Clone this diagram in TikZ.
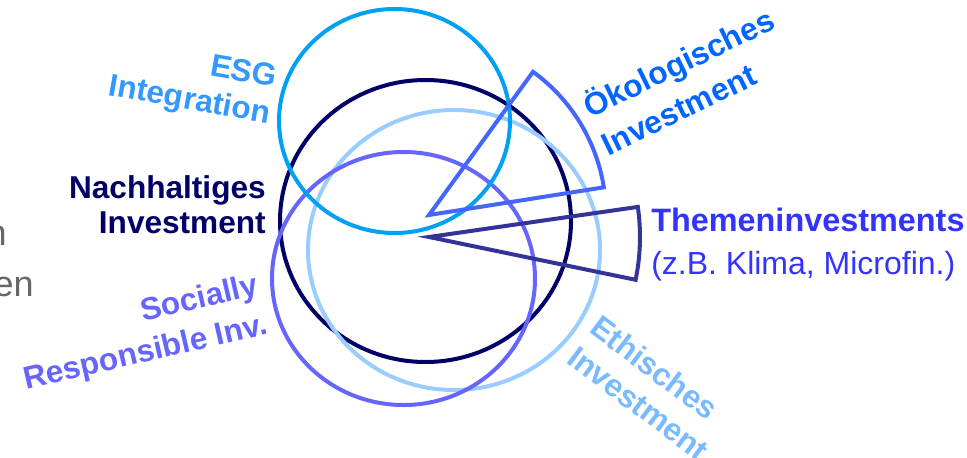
\documentclass[tikz,border=0pt]{standalone}
\usepackage{fontspec}
\setmainfont{Liberation Sans}
\usepackage{tikz}
\usetikzlibrary{positioning}
\definecolor{nachBlue}{RGB}{0,0,102}
\definecolor{esgLine}{RGB}{0,160,245}
\definecolor{esgText}{RGB}{51,153,255}
\definecolor{ethLine}{RGB}{153,204,255}
\definecolor{ethText}{RGB}{122,186,255}
\definecolor{sriBlue}{RGB}{102,102,255}
\definecolor{oekoLine}{RGB}{68,102,255}
\definecolor{oekoText}{RGB}{0,102,255}
\definecolor{themLine}{RGB}{51,51,153}
\definecolor{themText}{RGB}{51,51,255}
\definecolor{cutGray}{RGB}{102,102,102}

\begin{document}
\begin{tikzpicture}[x=0.75pt, y=-0.75pt,
  ring/.style={line width=3pt},
  sector/.style={line width=3pt, line join=miter},
  lbl/.style={inner sep=0pt, font=\fontsize{23.7}{#1}\selectfont\bfseries},
  cut/.style={inner sep=0pt, anchor=base east, text=cutGray, font=\fontsize{27}{36}\selectfont},
]
  \useasboundingbox (0,0) rectangle (967,457);
  \clip (0,0) rectangle (967,457);

  \draw[ring, nachBlue] (425.5,221) ellipse [x radius=145.5, y radius=141];
  \draw[ring, ethLine] (454,250) ellipse [x radius=146, y radius=140];
  \draw[ring, sriBlue] (403.5,278.5) ellipse [x radius=131.5, y radius=126.5];
  \draw[ring, esgLine] (394.5,121) ellipse [x radius=115.5, y radius=112];

  \coordinate (oekoTip) at (429,215);
  \coordinate (themTip) at (429,237);
  \draw[sector, oekoLine] (oekoTip) -- ++(-54:177) arc[start angle=-54, end angle=-9, radius=177] -- cycle;
  \draw[sector, themLine] (themTip) -- ++(-8.2:211) arc[start angle=-8.2, end angle=11.7, radius=211] -- cycle;

  \node[cut] (cutA) at (7,245) {n};
  \node[cut] (cutB) at (34,296) {en};

  \node[lbl=27.75, text=esgText, align=right, rotate=-10] (esg) at (192.6,83.5) {ESG\\Integration};
  \node[lbl=26.25, text=nachBlue, align=right, anchor=east] (nach) at (266,205) {Nachhaltiges\\Investment};
  \node[lbl=30.2, text=sriBlue, align=right, rotate=13] (sri) at (141,334) {Socially\\Responsible Inv.};
  \node[lbl=31.3, text=oekoText, align=left, rotate=26] (oeko) at (687,80) {Ökologisches\\Investment};
  \node[lbl=28.5, text=ethText, align=left, rotate=-37] (eth) at (650,388) {Ethisches\\Investment};
  \node[inner sep=0pt, font=\fontsize{24}{32.25}\selectfont, text=themText, align=left, anchor=west] (them) at (651,244.5) {{\fontsize{24.3}{32.25}\selectfont\bfseries Themeninvestments}\\(z.B. Klima, Microfin.)};
\end{tikzpicture}
\end{document}
